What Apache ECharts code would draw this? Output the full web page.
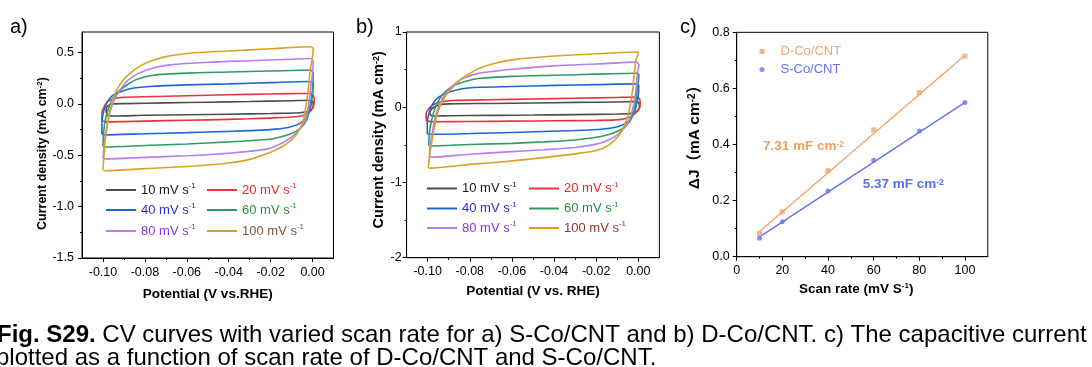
<!DOCTYPE html>
<html><head><meta charset="utf-8">
<script src="https://cdn.jsdelivr.net/npm/echarts@6/dist/echarts.min.js"></script>
<style>html,body{margin:0;padding:0;background:#fff}#c{width:1092px;height:367px}</style>
</head><body><div id="c"></div>
<script>
// ---------- DATA ----------
const scanRates = ['10', '20', '40', '60', '80', '100'];

// Panel a (S-Co/CNT) CV loops: [potential V, current density mA cm-2]
const a10 = [[-0.0982,-0.112],[-0.0985,-0.06],[-0.0975,-0.015],[-0.095,0.0],[-0.09,0.003],[-0.07,0.01],[-0.05,0.016],[-0.03,0.023],[-0.01,0.031],[-0.002,0.035],[0.0002,0.02],[0.0003,-0.03],[-0.0015,-0.07],[-0.006,-0.086],[-0.02,-0.093],[-0.04,-0.1],[-0.06,-0.105],[-0.08,-0.111],[-0.095,-0.118],[-0.0982,-0.112]];
const a20 = [[-0.1005,-0.13],[-0.1005,-0.08],[-0.0995,-0.03],[-0.098,0.02],[-0.095,0.05],[-0.09,0.065],[-0.07,0.075],[-0.05,0.085],[-0.03,0.093],[-0.01,0.1],[-0.002,0.102],[0.0003,0.085],[0.0008,0.04],[0.0005,-0.02],[-0.001,-0.07],[-0.003,-0.1],[-0.006,-0.12],[-0.012,-0.13],[-0.03,-0.145],[-0.05,-0.155],[-0.07,-0.163],[-0.09,-0.172],[-0.098,-0.175],[-0.1005,-0.16],[-0.1005,-0.13]];
const a40 = [[-0.1005,-0.295],[-0.1005,-0.19],[-0.0995,-0.06],[-0.0979,0.02],[-0.0952,0.085],[-0.092,0.117],[-0.0864,0.15],[-0.0761,0.172],[-0.06,0.185],[-0.04,0.195],[-0.02,0.207],[-0.002,0.218],[0.0003,0.2],[0.0,0.1],[-0.0009,-0.03],[-0.0028,-0.127],[-0.006,-0.19],[-0.0116,-0.23],[-0.0204,-0.25],[-0.04,-0.267],[-0.06,-0.28],[-0.08,-0.29],[-0.099,-0.302],[-0.1005,-0.295]];
const a60 = [[-0.1,-0.415],[-0.0998,-0.32],[-0.0992,-0.19],[-0.0976,-0.06],[-0.0957,0.036],[-0.0928,0.117],[-0.0888,0.182],[-0.084,0.237],[-0.0761,0.279],[-0.06,0.3],[-0.04,0.31],[-0.02,0.32],[-0.001,0.33],[0.0003,0.3],[0.0,0.133],[-0.0013,-0.03],[-0.0028,-0.159],[-0.006,-0.24],[-0.0108,-0.295],[-0.0172,-0.331],[-0.0204,-0.344],[-0.04,-0.37],[-0.06,-0.39],[-0.08,-0.405],[-0.099,-0.42],[-0.1,-0.415]];
const a80 = [[-0.1,-0.53],[-0.0995,-0.42],[-0.0984,-0.26],[-0.0968,-0.09],[-0.0947,0.035],[-0.092,0.13],[-0.088,0.23],[-0.0833,0.295],[-0.076,0.35],[-0.068,0.38],[-0.05,0.405],[-0.03,0.42],[-0.01,0.435],[-0.0005,0.442],[0.0003,0.41],[0.0,0.3],[-0.001,0.13],[-0.002,-0.03],[-0.0036,-0.16],[-0.0064,-0.255],[-0.0108,-0.335],[-0.0164,-0.4],[-0.022,-0.44],[-0.04,-0.48],[-0.06,-0.505],[-0.08,-0.52],[-0.099,-0.535],[-0.1,-0.53]];
const a100 = [[-0.1,-0.64],[-0.0995,-0.5],[-0.099,-0.35],[-0.0976,-0.16],[-0.096,0.0],[-0.0936,0.13],[-0.0904,0.23],[-0.0864,0.31],[-0.0817,0.375],[-0.076,0.425],[-0.07,0.46],[-0.06,0.49],[-0.05,0.505],[-0.04,0.515],[-0.02,0.537],[-0.001,0.557],[0.0003,0.54],[0.0,0.46],[-0.0013,0.3],[-0.0021,0.13],[-0.0032,-0.03],[-0.0044,-0.16],[-0.0068,-0.27],[-0.01,-0.35],[-0.0148,-0.42],[-0.02,-0.47],[-0.03,-0.54],[-0.04,-0.575],[-0.06,-0.61],[-0.08,-0.63],[-0.099,-0.65],[-0.1,-0.64]];

// Panel b (D-Co/CNT) CV loops
const b10 = [[-0.0985,-0.11],[-0.099,-0.06],[-0.097,0.0],[-0.094,0.035],[-0.09,0.045],[-0.07,0.05],[-0.05,0.057],[-0.03,0.064],[-0.01,0.07],[-0.002,0.075],[0.0003,0.06],[0.0005,0.0],[-0.001,-0.06],[-0.004,-0.085],[-0.01,-0.09],[-0.03,-0.098],[-0.05,-0.104],[-0.07,-0.108],[-0.09,-0.114],[-0.097,-0.117],[-0.0985,-0.11]];
const b20 = [[-0.1007,-0.15],[-0.1007,-0.08],[-0.0995,-0.02],[-0.097,0.04],[-0.093,0.075],[-0.088,0.09],[-0.07,0.1],[-0.05,0.11],[-0.03,0.12],[-0.01,0.13],[-0.002,0.135],[0.0004,0.12],[0.0009,0.06],[0.0006,-0.01],[-0.001,-0.07],[-0.004,-0.13],[-0.009,-0.165],[-0.02,-0.175],[-0.04,-0.18],[-0.06,-0.185],[-0.08,-0.19],[-0.097,-0.192],[-0.1005,-0.18],[-0.1007,-0.15]];
const b40 = [[-0.1002,-0.355],[-0.1002,-0.21],[-0.0992,-0.06],[-0.0976,0.045],[-0.095,0.13],[-0.091,0.19],[-0.0847,0.24],[-0.0752,0.265],[-0.06,0.275],[-0.04,0.29],[-0.02,0.3],[-0.001,0.31],[0.0002,0.29],[0.0,0.16],[-0.0011,0.01],[-0.0024,-0.1],[-0.0048,-0.19],[-0.0095,-0.255],[-0.0167,-0.29],[-0.03,-0.31],[-0.06,-0.335],[-0.08,-0.35],[-0.099,-0.36],[-0.1002,-0.355]];
const b60 = [[-0.0995,-0.51],[-0.0992,-0.345],[-0.0981,-0.17],[-0.0965,-0.013],[-0.0942,0.12],[-0.091,0.22],[-0.087,0.295],[-0.0815,0.35],[-0.0752,0.385],[-0.06,0.41],[-0.04,0.425],[-0.02,0.44],[-0.001,0.452],[0.0003,0.43],[-0.0005,0.23],[-0.0016,0.01],[-0.0032,-0.145],[-0.0059,-0.25],[-0.0103,-0.325],[-0.0158,-0.375],[-0.02,-0.4],[-0.03,-0.435],[-0.045,-0.46],[-0.06,-0.48],[-0.08,-0.495],[-0.099,-0.515],[-0.0995,-0.51]];
const b80 = [[-0.0992,-0.655],[-0.0989,-0.52],[-0.0976,-0.3],[-0.0961,-0.1],[-0.0942,0.05],[-0.0913,0.185],[-0.0878,0.295],[-0.0831,0.385],[-0.076,0.45],[-0.068,0.48],[-0.06,0.505],[-0.04,0.55],[-0.02,0.575],[-0.001,0.6],[0.0003,0.565],[-0.0005,0.45],[-0.0011,0.23],[-0.0024,0.01],[-0.0043,-0.17],[-0.0071,-0.29],[-0.0111,-0.39],[-0.0158,-0.455],[-0.02,-0.49],[-0.03,-0.535],[-0.045,-0.565],[-0.06,-0.59],[-0.08,-0.625],[-0.099,-0.665],[-0.0992,-0.655]];
const b100 = [[-0.0997,-0.8],[-0.0989,-0.61],[-0.0976,-0.39],[-0.0961,-0.17],[-0.0942,0.01],[-0.0918,0.14],[-0.0886,0.25],[-0.0847,0.36],[-0.08,0.45],[-0.0752,0.52],[-0.068,0.585],[-0.06,0.63],[-0.04,0.68],[-0.02,0.71],[-0.001,0.735],[0.0,0.72],[-0.0011,0.63],[-0.0019,0.45],[-0.0027,0.23],[-0.004,0.01],[-0.0056,-0.17],[-0.0079,-0.32],[-0.0111,-0.435],[-0.015,-0.52],[-0.02,-0.575],[-0.03,-0.62],[-0.045,-0.67],[-0.062,-0.72],[-0.08,-0.76],[-0.099,-0.81],[-0.0997,-0.8]];

// Panel c: capacitive current vs scan rate
const cScan = [10, 20, 40, 60, 80, 100];
const cD = [0.083, 0.16, 0.307, 0.452, 0.585, 0.715];
const cS = [0.066, 0.125, 0.234, 0.344, 0.448, 0.55];
const cDFit = [[10, 0.09], [100, 0.718]];
const cSFit = [[10, 0.071], [100, 0.55]];
const cDLabel = '7.31 mF cm';
const cSLabel = '5.37 mF cm';

// Tick labels
const cvXTicks = [-0.10, -0.08, -0.06, -0.04, -0.02, 0.00];
const cvXMinor = [-0.09, -0.07, -0.05, -0.03, -0.01];
const aYTicks = [-1.5, -1.0, -0.5, 0.0, 0.5];
const aYMinor = [-1.25, -0.75, -0.25, 0.25];
const bYTicks = [-2, -1, 0, 1];
const bYMinor = [-1.5, -0.5, 0.5];
const cXTicks = [0, 20, 40, 60, 80, 100];
const cXMinor = [10, 30, 50, 70, 90];
const cYTicks = [0.0, 0.2, 0.4, 0.6, 0.8];
const cYMinor = [0.1, 0.3, 0.5, 0.7];

const captionLine1 = 'CV curves with varied scan rate for a) S-Co/CNT and b) D-Co/CNT. c) The capacitive current';
const captionLine2 = 'plotted as a function of scan rate of D-Co/CNT and S-Co/CNT.';

// ---------- STYLE ----------
const FONT = 'Arial, "Liberation Sans", "Noto Sans CJK SC", sans-serif';
const cvColors = ['#4d4d4d', '#e8353b', '#1f68d3', '#2f9d62', '#b67ef0', '#d9a124'];
const aTextColors = ['#1a1a1a', '#e8282e', '#2a2ad6', '#2f8c3c', '#8e35e6', '#7d5342'];
const bTextColors = ['#1a1a1a', '#e8282e', '#2a2ad6', '#2f8c3c', '#8e35e6', '#8a3535'];
const orange = '#f4a56a';
const blue = '#6673ef';

function axisPair(dim, grid, min, max, major, minor, fmt, name, nameGap, margin, nameSize, namePad) {
  const pos = dim === 'x' ? 'bottom' : 'left';
  const nameStyle = {
    fontSize: nameSize, fontWeight: 'bold', color: '#000', fontFamily: FONT, padding: namePad || 0,
    rich: {
      n: {fontSize: nameSize, fontWeight: 'bold', color: '#000', fontFamily: FONT},
      s: {fontSize: Math.round(nameSize * 0.62), fontWeight: 'bold', color: '#000', fontFamily: FONT, verticalAlign: 'top'}
    }
  };
  return [{
    type: 'value', gridIndex: grid, min: min, max: max, position: pos,
    axisLine: {show: true, onZero: false, lineStyle: {color: '#000', width: 1}},
    axisTick: {show: true, inside: false, length: 4, customValues: major, lineStyle: {color: '#000', width: 1}},
    axisLabel: {show: true, customValues: major, formatter: fmt, margin: margin, color: '#000', fontSize: 12.5, fontFamily: FONT},
    splitLine: {show: false},
    name: name, nameLocation: 'middle', nameGap: nameGap, nameTextStyle: nameStyle
  }, {
    type: 'value', gridIndex: grid, min: min, max: max, position: pos,
    axisLine: {show: false, onZero: false},
    axisTick: {show: true, inside: false, length: 2, customValues: minor, lineStyle: {color: '#000', width: 1}},
    axisLabel: {show: false},
    splitLine: {show: false}
  }];
}

const f2 = v => v.toFixed(2);
const f1 = v => v.toFixed(1);
const f0 = v => String(Math.round(v));

const xAxes = [].concat(
  axisPair('x', 0, -0.11, 0.01, cvXTicks, cvXMinor, f2, 'Potential (V vs.RHE)', 30, 8, 13.5),
  axisPair('x', 1, -0.11, 0.01, cvXTicks, cvXMinor, f2, 'Potential (V vs. RHE)', 27, 8, 13.5),
  axisPair('x', 2, 0, 110, cXTicks, cXMinor, f0, '{n|Scan rate (mV S}{s|-1}{n|)}', 22, 8, 13.5, [0, 12, 0, 0])
);
const yAxes = [].concat(
  axisPair('y', 0, -1.5, 0.7, aYTicks, aYMinor, f1, '{n|Current density (mA cm}{s|-2}{n|)}', 28, 8, 12.5, [0, 17, 0, 0]),
  axisPair('y', 1, -2, 1, bYTicks, bYMinor, f0, '{n|Current density (mA cm}{s|-2}{n|)}', 14, 5, 14.5, [0, 0, 0, 10]),
  axisPair('y', 2, 0, 0.8, cYTicks, cYMinor, f1, '{n|ΔJ（mA cm}{s|-2}{n|）}', 34, 7, 15.5, [0, 0, 0, 22])
);

const aLoops = [a10, a20, a40, a60, a80, a100];
const bLoops = [b10, b20, b40, b60, b80, b100];
const series = [];
const legends = [];
const aCols = [106, 207], aRows = [190, 210, 231];
const bCols = [427, 529], bRows = [188.5, 208.5, 228];

function addPanel(prefix, loops, axisIdx, cols, rows, textColors) {
  loops.forEach((loop, i) => {
    const nm = prefix + scanRates[i];
    series.push({
      name: nm, type: 'line', xAxisIndex: axisIdx, yAxisIndex: axisIdx,
      data: loop, symbol: 'none', showSymbol: false, smooth: 0.25,
      lineStyle: {color: cvColors[i], width: 1.6}, itemStyle: {color: cvColors[i]},
      z: 2 + i
    });
    const col = cols[i % 2], row = rows[Math.floor(i / 2)];
    legends.push({
      data: [{name: nm, icon: 'rect'}], left: col, top: row - 8, padding: 0,
      itemWidth: 30, itemHeight: 2, itemGap: 0, selectedMode: false,
      formatter: () => '{t|' + scanRates[i] + ' mV s}{s|-1}',
      textStyle: {
        rich: {
          t: {color: textColors[i], fontSize: 13, fontFamily: FONT, lineHeight: 16},
          s: {color: textColors[i], fontSize: 8, fontFamily: FONT, verticalAlign: 'top'}
        }
      }
    });
  });
}
addPanel('a', aLoops, 0, aCols, aRows, aTextColors);
addPanel('b', bLoops, 2, bCols, bRows, bTextColors);

series.push(
  {name: 'D-Co/CNT fit', type: 'line', xAxisIndex: 4, yAxisIndex: 4, data: cDFit, symbol: 'none', lineStyle: {color: orange, width: 1.5}, z: 2},
  {name: 'S-Co/CNT fit', type: 'line', xAxisIndex: 4, yAxisIndex: 4, data: cSFit, symbol: 'none', lineStyle: {color: blue, width: 1.5}, z: 2},
  {name: 'D-Co/CNT', type: 'scatter', xAxisIndex: 4, yAxisIndex: 4, data: cScan.map((x, i) => [x, cD[i]]), symbol: 'rect', symbolSize: 5, itemStyle: {color: orange}, z: 3},
  {name: 'S-Co/CNT', type: 'scatter', xAxisIndex: 4, yAxisIndex: 4, data: cScan.map((x, i) => [x, cS[i]]), symbol: 'circle', symbolSize: 5, itemStyle: {color: blue}, z: 3}
);
legends.push(
  {data: [{name: 'D-Co/CNT', icon: 'rect'}], left: 759.5, top: 45, padding: 0, itemWidth: 5, itemHeight: 5, selectedMode: false,
   textStyle: {color: orange, fontSize: 13, fontFamily: FONT, padding: [0, 0, 0, 11]}},
  {data: [{name: 'S-Co/CNT', icon: 'circle'}], left: 759.5, top: 63, padding: 0, itemWidth: 5, itemHeight: 5, selectedMode: false,
   textStyle: {color: blue, fontSize: 13, fontFamily: FONT, padding: [0, 0, 0, 11]}}
);

function supText(x, y, main, sup, color) {
  return {
    type: 'text', left: x, top: y, z: 10,
    style: {
      text: '{n|' + main + '}{s|' + sup + '}',
      rich: {
        n: {fontSize: 13.5, fontWeight: 'bold', fill: color, fontFamily: FONT},
        s: {fontSize: 8.5, fontWeight: 'bold', fill: color, fontFamily: FONT, verticalAlign: 'top'}
      }
    }
  };
}

const option = {
  animation: false,
  backgroundColor: '#fff',
  textStyle: {fontFamily: FONT},
  grid: [
    {left: 82, top: 32, width: 251.5, height: 226, show: true, borderColor: '#000', borderWidth: 1, backgroundColor: 'transparent', outerBoundsMode: 'none', containLabel: false},
    {left: 406.6, top: 32, width: 252.8, height: 225.7, show: true, borderColor: '#000', borderWidth: 1, backgroundColor: 'transparent', outerBoundsMode: 'none', containLabel: false},
    {left: 736.7, top: 32.3, width: 251.1, height: 224.4, show: true, borderColor: '#000', borderWidth: 1, backgroundColor: 'transparent', outerBoundsMode: 'none', containLabel: false}
  ],
  xAxis: xAxes,
  yAxis: yAxes,
  legend: legends,
  series: series,
  graphic: [
    {type: 'text', left: 10, top: 17, style: {text: 'a)', fontSize: 20, fill: '#000', fontFamily: FONT}},
    {type: 'text', left: 356, top: 17, style: {text: 'b)', fontSize: 20, fill: '#000', fontFamily: FONT}},
    {type: 'text', left: 680, top: 17, style: {text: 'c)', fontSize: 20, fill: '#000', fontFamily: FONT}},
    supText(763, 140, cDLabel, '-2', '#f0a060'),
    supText(862.7, 178, cSLabel, '-2', '#5d6df0'),
    {type: 'text', left: -3, top: 323, style: {text: '{b|Fig. S29.} ' + captionLine1, fontSize: 24, fill: '#000', fontFamily: FONT,
      rich: {b: {fontSize: 24, fontWeight: 'bold', fill: '#000', fontFamily: FONT}}}},
    {type: 'text', left: -4, top: 346, style: {text: captionLine2, fontSize: 24, fill: '#000', fontFamily: FONT}}
  ]
};

const chart = echarts.init(document.getElementById('c'), null, {renderer: 'canvas'});
chart.setOption(option);
</script>
</body></html>
